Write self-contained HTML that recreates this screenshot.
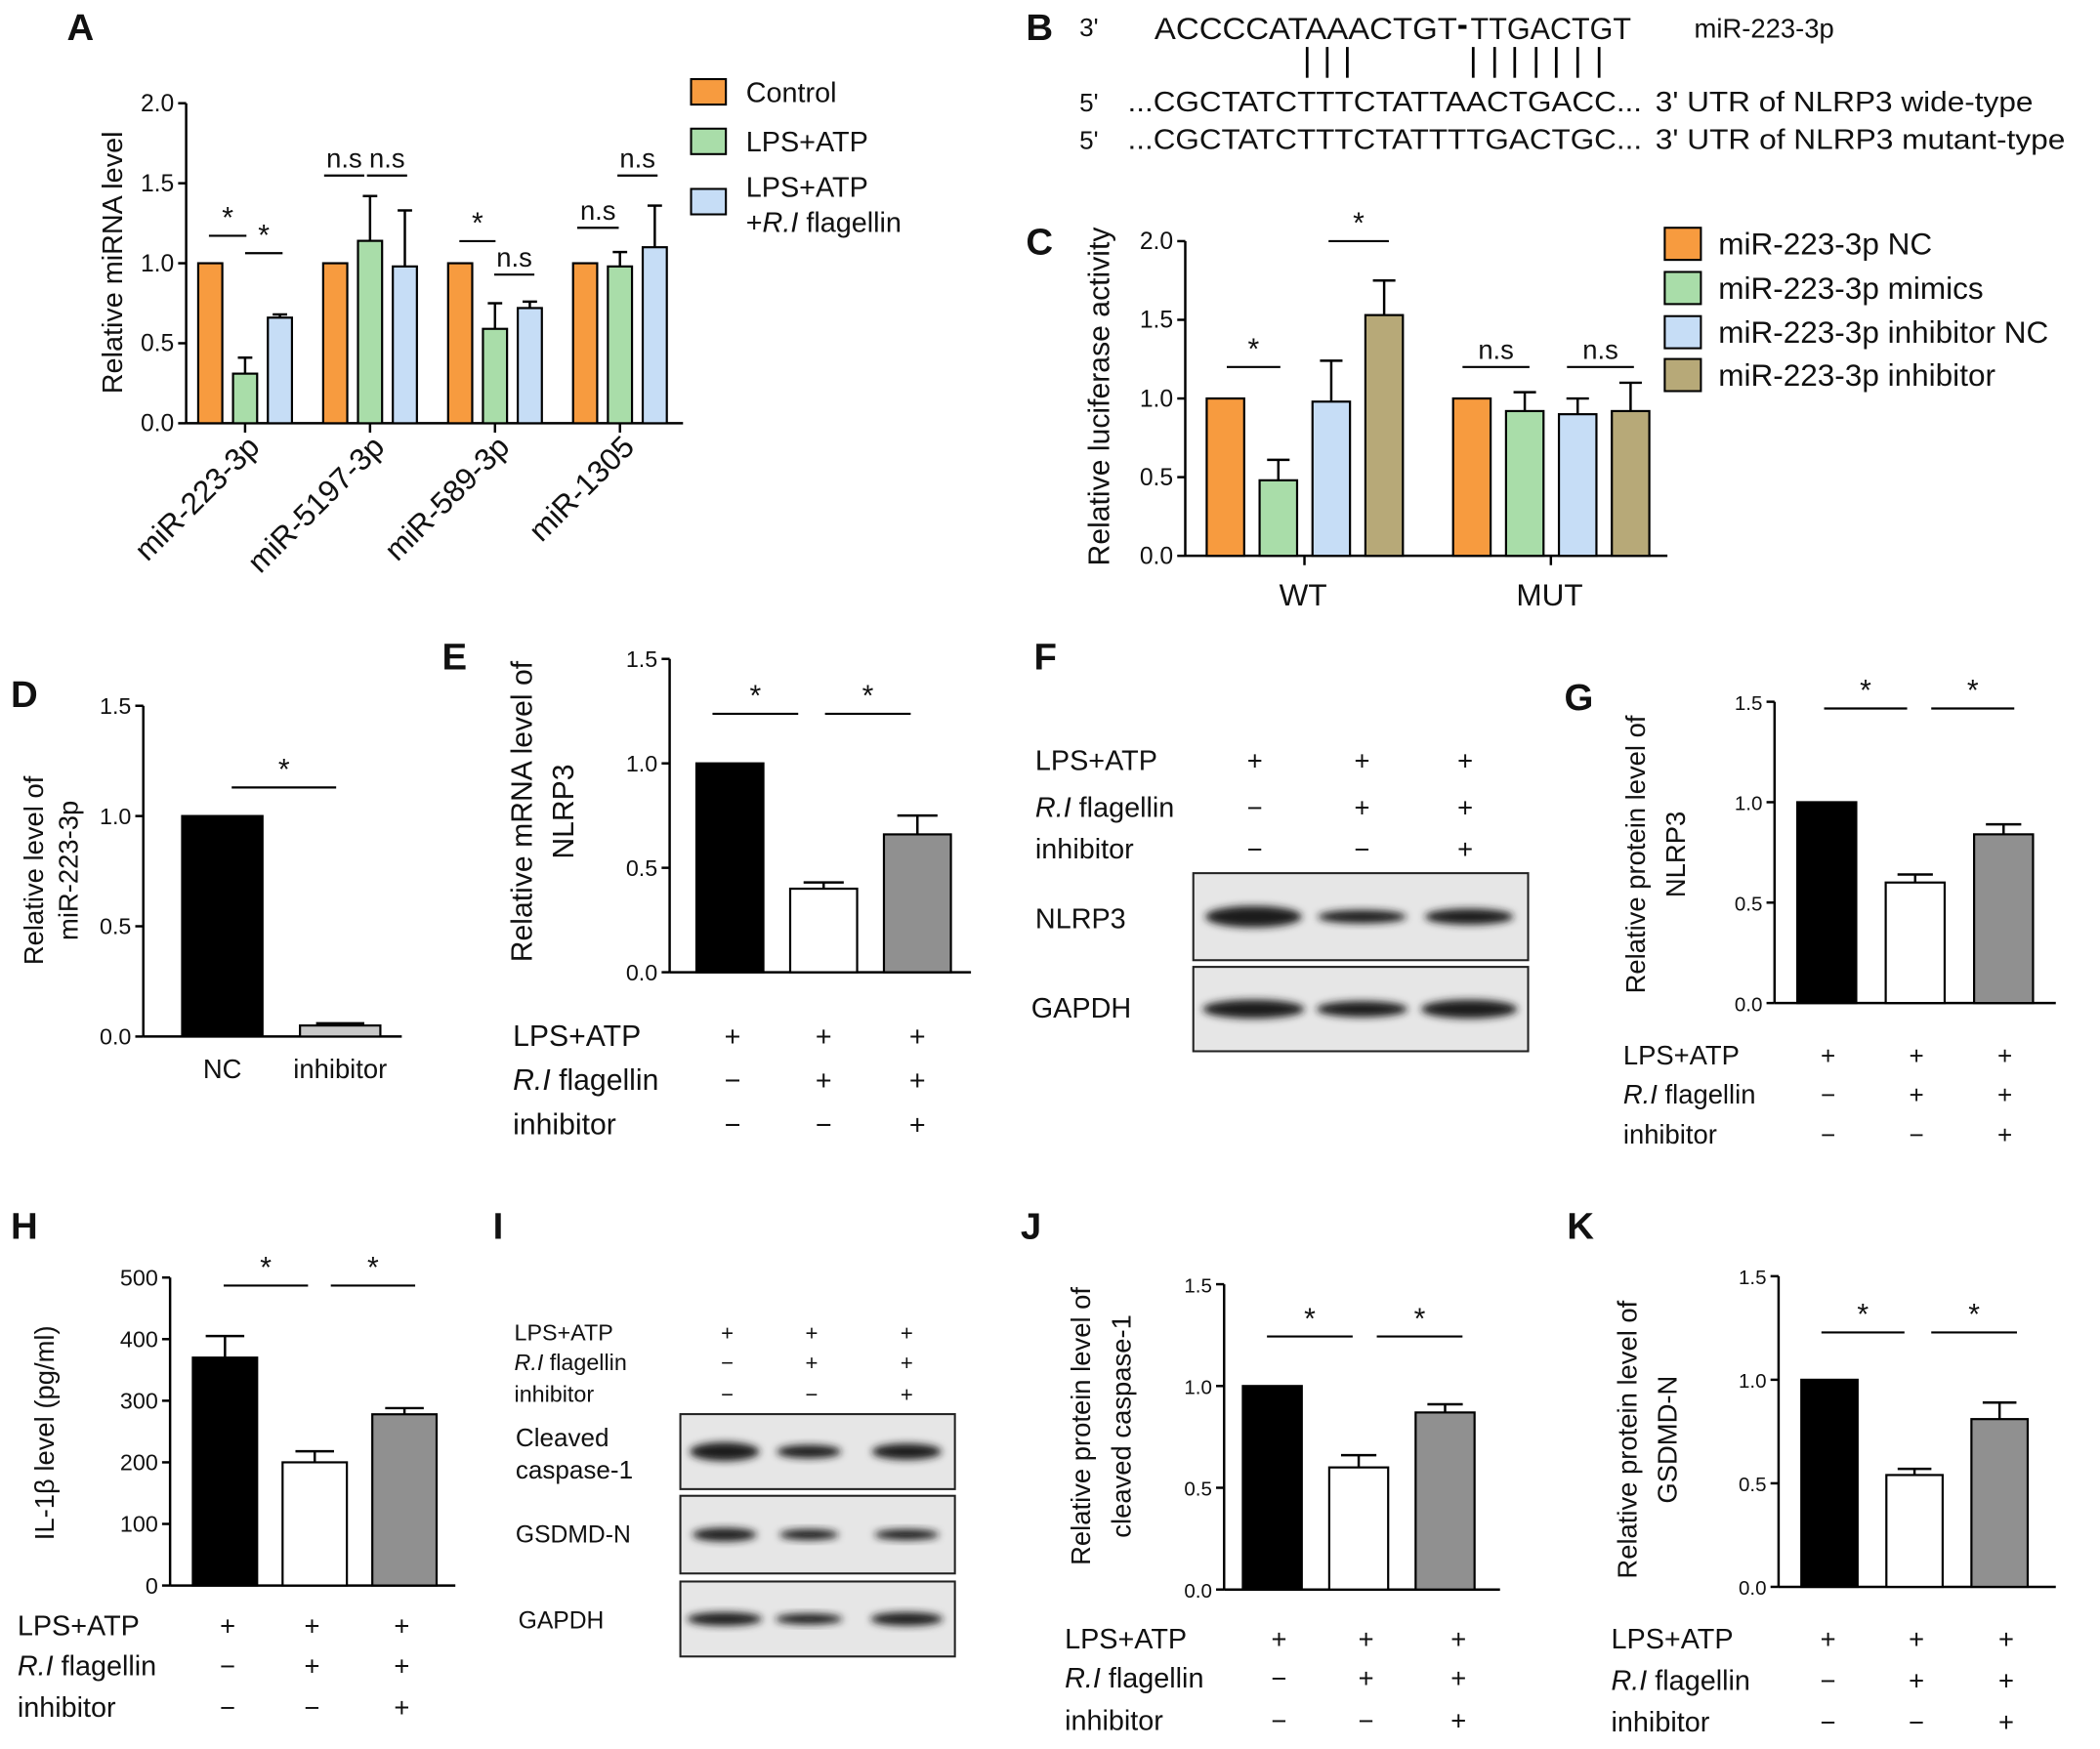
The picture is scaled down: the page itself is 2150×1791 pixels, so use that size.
<!DOCTYPE html>
<html><head><meta charset="utf-8">
<style>
html,body{margin:0;padding:0;background:#fff;}
svg{display:block;font-family:"Liberation Sans",Arial,sans-serif;}
</style></head>
<body>
<svg id="fig" width="2150" height="1791" viewBox="0 0 1568 1306" xmlns="http://www.w3.org/2000/svg">
<defs>
<filter id="blur" x="-20%" y="-50%" width="140%" height="200%"><feGaussianBlur stdDeviation="3"/></filter>
</defs>
</svg>
<script>
// ---- data ----
const catsA = ['miR-223-3p','miR-5197-3p','miR-589-3p','miR-1305'];
const ctrlA = [1,1,1,1];
const lpsA = [0.31,1.14,0.59,0.98];
const flagA = [0.66,0.98,0.72,1.10];
const ctrlErrA = [0,0,0,0];
const lpsErrA = [0.10,0.28,0.16,0.09];
const flagErrA = [0.02,0.35,0.04,0.26];
const catsC = ['WT','MUT'];
const ncC = [1,1];
const mimC = [0.48,0.92];
const inhNcC = [0.98,0.90];
const inhC = [1.53,0.92];
const ncErrC = [0,0];
const mimErrC = [0.13,0.12];
const inhNcErrC = [0.26,0.10];
const inhErrC = [0.22,0.18];
const valsD = [1.0,0.05]; const errD = [0,0.01];
const valsE = [1.0,0.40,0.66]; const errE = [0,0.03,0.09];
const valsG = [1.0,0.60,0.84]; const errG = [0,0.04,0.05];
const valsH = [370,200,278]; const errH = [35,18,10];
const valsJ = [1.0,0.60,0.87]; const errJ = [0,0.06,0.04];
const valsK = [1.0,0.54,0.81]; const errK = [0,0.03,0.08];
const ticks15 = ['0.0','0.5','1.0','1.5'];
const ticks20 = ['0.0','0.5','1.0','1.5','2.0'];
const ticksH = ['0','100','200','300','400','500'];

const svg = document.getElementById('fig');
const NS = 'http://www.w3.org/2000/svg';
function mk(tag, attrs, name, parent){
  const el = document.createElementNS(NS, tag);
  for (const k in attrs) el.setAttribute(k, attrs[k]);
  
  
  (parent||svg).appendChild(el);
  return el;
}
function txt(x,y,s,size,name,opts){
  opts=opts||{};
  const t = mk('text',{x:x,y:y,'font-size':size,fill:'#111','text-anchor':opts.anchor||'start','font-weight':opts.bold?'bold':'normal','font-style':opts.italic?'italic':'normal'},name);
  if(opts.rot) t.setAttribute('transform','rotate('+opts.rot+' '+x+' '+y+')');
  if(opts.len){ t.setAttribute('textLength',opts.len); t.setAttribute('lengthAdjust','spacingAndGlyphs'); }
  if(opts.html) t.innerHTML=s; else t.textContent=s;
  return t;
}
function chart(c){
  const max = parseFloat(c.ticks[c.ticks.length-1]);
  const yS = v => c.y0 - (v/max)*(c.y0-c.yTop);
  const g = mk('g',{},c.name);
  mk('line',{x1:c.ax,y1:c.yTop,x2:c.ax,y2:c.y0,stroke:'#000','stroke-width':1.8},c.name+'-y-axis',g);
  mk('line',{x1:c.ax,y1:c.y0,x2:c.axEnd,y2:c.y0,stroke:'#000','stroke-width':1.8},c.name+'-x-axis',g);
  c.ticks.forEach(t=>{
    const y=yS(parseFloat(t));
    mk('line',{x1:c.ax-6,y1:y,x2:c.ax,y2:y,stroke:'#000','stroke-width':1.8},c.name+'-y-tick',g);
    const tt=mk('text',{x:c.ax-9,y:y+6,'font-size':c.tickSize||17,'text-anchor':'end',fill:'#111'},c.name+'-y-tick-label',g);
    tt.textContent=t;
  });
  (c.xticks||[]).forEach(x=>mk('line',{x1:x,y1:c.y0,x2:x,y2:c.y0+7,stroke:'#000','stroke-width':1.8},c.name+'-x-tick',g));
  c.series.forEach((s,si)=>{
    s.vals.forEach((v,i)=>{
      const x=c.x(si,i), w=c.bw;
      const yt=yS(v);
      const e=s.errs[i];
      if(e>0){
        const ye=yS(v+e);
        mk('line',{x1:x+w/2,y1:ye,x2:x+w/2,y2:yt,stroke:'#000','stroke-width':1.8},c.name+'-error-bar',g);
        mk('line',{x1:x+w/2-w*0.3,y1:ye,x2:x+w/2+w*0.3,y2:ye,stroke:'#000','stroke-width':1.8},c.name+'-error-cap',g);
      }
      mk('rect',{x:x,y:yt,width:w,height:c.y0-yt,fill:s.color,stroke:'#000','stroke-width':1.6},c.name+'-bar',g);
    });
  });
  (c.sig||[]).forEach(s=>{
    mk('line',{x1:s[0],y1:s[2],x2:s[1],y2:s[2],stroke:'#000','stroke-width':1.6},c.name+'-sig-line',g);
    const t=mk('text',{x:(s[0]+s[1])/2,y:s[2]-6,'font-size':s[3]==='*'?22:20,'text-anchor':'middle',fill:'#111'},c.name+'-sig-label',g);
    t.textContent=s[3];
  });
  return yS;
}
function condTable(x0,cols,rows,size,name){
  rows.forEach((ry,r)=>{
    if(r===1){ txt(x0,ry,'<tspan font-style="italic">R.I</tspan> flagellin',size,name+'-row-label',{html:true}); }
    else txt(x0,ry,r===0?'LPS+ATP':'inhibitor',size,name+'-row-label');
  });
  const pat=[['+','+','+'],['−','+','+'],['−','−','+']];
  rows.forEach((ry,r)=>cols.forEach((cx,ci)=>txt(cx,ry,pat[r][ci],size*0.95,name+'-sign',{anchor:'middle'})));
}

// ---- Panel A ----
txt(50,30,'A',28,'panel-label-a',{bold:true});
chart({name:'chart-a',ax:139,axEnd:510,y0:316,yTop:77,ticks:ticks20,bw:18,
  x:(si,i)=>148+i*93.3+si*26,
  xticks:[183,276.3,369.6,462.9],
  series:[{vals:ctrlA,errs:ctrlErrA,color:'#F79B3F'},{vals:lpsA,errs:lpsErrA,color:'#A9DDA9'},{vals:flagA,errs:flagErrA,color:'#C6DDF6'}],
  sig:[[156,184,176,'*'],[183,211,189,'*'],[242,272,131,'n.s'],[274,304,131,'n.s'],[343,370,180,'*'],[369,399,205,'n.s'],[431,462,170,'n.s'],[461,491,131,'n.s']],tickSize:18});
catsA.forEach((c,i)=>txt(195+i*93.3,335,c,23,'x-label-a',{anchor:'end',rot:-45}));
txt(91,196,'Relative miRNA level',21,'y-axis-title-a',{anchor:'middle',rot:-90});
[['Control',59],['LPS+ATP',96]].forEach(l=>{mk('rect',{x:516,y:l[1],width:26,height:19,fill:l[0]==='Control'?'#F79B3F':'#A9DDA9',stroke:'#000','stroke-width':1.5},'legend-swatch-a');txt(557,l[1]+17,l[0],21,'legend-entry-a');});
mk('rect',{x:516,y:141,width:26,height:19,fill:'#C6DDF6',stroke:'#000','stroke-width':1.5},'legend-swatch-a');
txt(557,147,'LPS+ATP',21,'legend-entry-a');
txt(557,173,'+<tspan font-style="italic">R.I</tspan> flagellin',21,'legend-entry-a',{html:true});

// ---- Panel B ----
txt(766,30,'B',28,'panel-label-b',{bold:true});
txt(806,27,"3'",19,'seq-label');
txt(862,29,'ACCCCATAAACTGT',23,'mirna-seq',{len:226});
mk('line',{x1:1089,y1:20,x2:1095,y2:20,stroke:'#000','stroke-width':3},'gap-dash');
txt(1098,29,'TTGACTGT',23,'mirna-seq-2',{len:120});
txt(1265,28,'miR-223-3p',20,'seq-name');
[976,991,1006,1100,1116,1131,1147,1162,1178,1194].forEach(x=>mk('line',{x1:x,y1:35,x2:x,y2:58,stroke:'#000','stroke-width':2},'pairing-line'));
txt(806,83,"5'",19,'seq-label');txt(842,83,'...CGCTATCTTTCTATTAACTGACC...',21,'wt-seq',{len:384});txt(1236,83,"3' UTR of NLRP3 wide-type",21,'seq-name',{len:282});
txt(806,111,"5'",19,'seq-label');txt(842,111,'...CGCTATCTTTCTATTTTGACTGC...',21,'mut-seq',{len:384});txt(1236,111,"3' UTR of NLRP3 mutant-type",21,'seq-name',{len:306});

// ---- Panel C ----
txt(766,190,'C',28,'panel-label-c',{bold:true});
chart({name:'chart-c',ax:885,axEnd:1245,y0:415,yTop:180,ticks:ticks20,bw:28,
  x:(si,i)=>901+i*184+si*39.5,
  xticks:[974,1158],
  series:[{vals:ncC,errs:ncErrC,color:'#F79B3F'},{vals:mimC,errs:mimErrC,color:'#A9DDA9'},{vals:inhNcC,errs:inhNcErrC,color:'#C6DDF6'},{vals:inhC,errs:inhErrC,color:'#B7A978'}],
  sig:[[916,956,274,'*'],[992,1037,180,'*'],[1092,1142,274,'n.s'],[1170,1220,274,'n.s']],tickSize:18});
catsC.forEach((c,i)=>txt(973+i*184,452,c,23,'x-label-c',{anchor:'middle'}));
txt(828,296,'Relative luciferase activity',22,'y-axis-title-c',{anchor:'middle',rot:-90});
[['miR-223-3p NC','#F79B3F',170],['miR-223-3p mimics','#A9DDA9',203],['miR-223-3p inhibitor NC','#C6DDF6',236],['miR-223-3p inhibitor','#B7A978',268]].forEach(l=>{
  mk('rect',{x:1243,y:l[2],width:27,height:24,fill:l[1],stroke:'#000','stroke-width':1.5},'legend-swatch-c');
  txt(1283,l[2]+20,l[0],23,'legend-entry-c');});

// ---- Panel D ----
txt(8,528,'D',28,'panel-label-d',{bold:true});
chart({name:'chart-d',ax:107,axEnd:300,y0:774,yTop:527,ticks:ticks15,bw:60,
  x:(si,i)=>136+i*88,series:[{vals:valsD,errs:errD,color:'#000'}],sig:[[173,251,588,'*']]});
svg.lastChild.querySelectorAll('rect')[1].setAttribute('fill','#c8c8c8');
txt(166,805,'NC',20,'x-label-d',{anchor:'middle'});txt(254,805,'inhibitor',20,'x-label-d',{anchor:'middle'});
txt(32,650,'Relative level of',20,'y-axis-title-d',{anchor:'middle',rot:-90});
txt(58,650,'miR-223-3p',20,'y-axis-title-d',{anchor:'middle',rot:-90});

// ---- Panel E ----
txt(330,500,'E',28,'panel-label-e',{bold:true});
chart({name:'chart-e',ax:500,axEnd:725,y0:726,yTop:492,ticks:ticks15,bw:50,
  x:(si,i)=>520+i*70,series:[{vals:valsE,errs:errE,color:'#000'}],sig:[[532,596,533,'*'],[616,680,533,'*']]});
svg.lastChild.querySelectorAll('rect')[1].setAttribute('fill','#fff');
svg.lastChild.querySelectorAll('rect')[2].setAttribute('fill','#909090');
txt(397,606,'Relative mRNA level of',22,'y-axis-title-e',{anchor:'middle',rot:-90});
txt(428,606,'NLRP3',22,'y-axis-title-e',{anchor:'middle',rot:-90});
condTable(383,[547,615,685],[781,814,847],22,'conditions-e');

// ---- Panel F ----
txt(772,500,'F',28,'panel-label-f',{bold:true});
condTable(773,[937,1017,1094],[575,610,641],21,'conditions-f');
function blot(x,y,w,h,bands,name){
  mk('rect',{x:x,y:y,width:w,height:h,fill:'#e6e6e6',stroke:'#222','stroke-width':1.5},name+'-frame');
  bands.forEach(b=>mk('ellipse',{cx:b[0],cy:y+h/2,rx:b[1],ry:b[2],fill:'#1a1a1a',filter:'url(#blur)'},name+'-band'));
}
blot(891,652,250,65,[[936,36,8],[1017,33,5],[1097,33,6]],'nlrp3-blot');
blot(891,722,250,63,[[936,38,7],[1017,34,6],[1097,36,7]],'gapdh-blot-f');
txt(773,693,'NLRP3',21,'blot-label');txt(770,760,'GAPDH',21,'blot-label');

// ---- Panel G ----
txt(1168,530,'G',28,'panel-label-g',{bold:true});
chart({name:'chart-g',ax:1325,axEnd:1535,y0:749,yTop:524,ticks:ticks15,bw:44,
  x:(si,i)=>1342+i*66,series:[{vals:valsG,errs:errG,color:'#000'}],sig:[[1362,1424,529,'*'],[1442,1504,529,'*']],tickSize:15});
svg.lastChild.querySelectorAll('rect')[1].setAttribute('fill','#fff');
svg.lastChild.querySelectorAll('rect')[2].setAttribute('fill','#909090');
txt(1228,638,'Relative protein level of',20,'y-axis-title-g',{anchor:'middle',rot:-90});
txt(1258,638,'NLRP3',20,'y-axis-title-g',{anchor:'middle',rot:-90});
condTable(1212,[1365,1431,1497],[795,824,854],20,'conditions-g');

// ---- Panel H ----
txt(8,925,'H',28,'panel-label-h',{bold:true});
chart({name:'chart-h',ax:127,axEnd:340,y0:1184,yTop:954,ticks:ticksH,bw:48,
  x:(si,i)=>144+i*67,series:[{vals:valsH,errs:errH,color:'#000'}],sig:[[167,230,960,'*'],[247,310,960,'*']]});
svg.lastChild.querySelectorAll('rect')[1].setAttribute('fill','#fff');
svg.lastChild.querySelectorAll('rect')[2].setAttribute('fill','#909090');
txt(40,1070,'IL-1β level (pg/ml)',20,'y-axis-title-h',{anchor:'middle',rot:-90});
condTable(13,[170,233,300],[1221,1251,1282],21,'conditions-h');

// ---- Panel I ----
txt(368,925,'I',28,'panel-label-i',{bold:true});
condTable(384,[543,606,677],[1001,1023,1047],17,'conditions-i');
blot(508,1056,205,56,[[541,26,7],[604,24,5],[677,26,6]],'caspase-blot');
blot(508,1117,205,58,[[541,24,5],[604,22,4],[677,24,4]],'gsdmd-blot');
blot(508,1181,205,56,[[541,28,5],[604,25,4],[677,27,5]],'gapdh-blot-i');
txt(385,1080,'Cleaved',19,'blot-label');txt(385,1104,'caspase-1',19,'blot-label');
txt(385,1152,'GSDMD-N',18,'blot-label');txt(387,1216,'GAPDH',18,'blot-label');

// ---- Panel J ----
txt(762,925,'J',28,'panel-label-j',{bold:true});
chart({name:'chart-j',ax:914,axEnd:1120,y0:1187,yTop:959,ticks:ticks15,bw:44,
  x:(si,i)=>928+i*64.5,series:[{vals:valsJ,errs:errJ,color:'#000'}],sig:[[946,1010,998,'*'],[1028,1092,998,'*']],tickSize:15});
svg.lastChild.querySelectorAll('rect')[1].setAttribute('fill','#fff');
svg.lastChild.querySelectorAll('rect')[2].setAttribute('fill','#909090');
txt(814,1065,'Relative protein level of',20,'y-axis-title-j',{anchor:'middle',rot:-90});
txt(844,1065,'cleaved caspase-1',20,'y-axis-title-j',{anchor:'middle',rot:-90});
condTable(795,[955,1020,1089],[1231,1260,1292],21,'conditions-j');

// ---- Panel K ----
txt(1170,925,'K',28,'panel-label-k',{bold:true});
chart({name:'chart-k',ax:1328,axEnd:1535,y0:1185,yTop:953,ticks:ticks15,bw:42,
  x:(si,i)=>1345+i*63.5,series:[{vals:valsK,errs:errK,color:'#000'}],sig:[[1360,1422,995,'*'],[1442,1506,995,'*']],tickSize:15});
svg.lastChild.querySelectorAll('rect')[1].setAttribute('fill','#fff');
svg.lastChild.querySelectorAll('rect')[2].setAttribute('fill','#909090');
txt(1222,1075,'Relative protein level of',20,'y-axis-title-k',{anchor:'middle',rot:-90});
txt(1252,1075,'GSDMD-N',20,'y-axis-title-k',{anchor:'middle',rot:-90});
condTable(1203,[1365,1431,1498],[1231,1262,1293],21,'conditions-k');
</script>
</body></html>
